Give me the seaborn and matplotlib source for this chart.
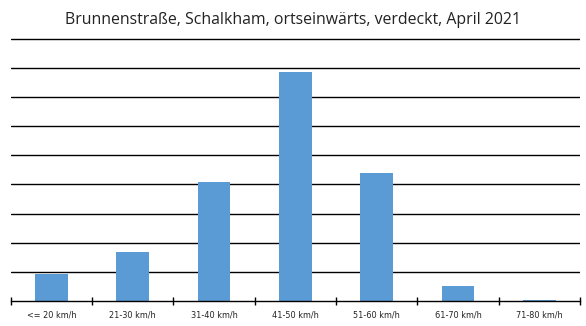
import matplotlib
matplotlib.use("Agg")
import matplotlib.pyplot as plt
import seaborn as sns
import pandas as pd
import numpy as np

categories = ["<= 20 km/h", "21-30 km/h", "31-40 km/h", "41-50 km/h",
              "51-60 km/h", "61-70 km/h", "71-80 km/h"]
values = [0.93, 1.68, 4.09, 7.85, 4.40, 0.52, 0.04]
title = "Brunnenstraße, Schalkham, ortseinwärts, verdeckt, April 2021"

df = pd.DataFrame({"cat": categories, "val": values})

sns.set_theme(style="white")
plt.rcParams["font.family"] = ["DejaVu Sans"]

unit = (301 - 38.5) / 9.0
top_px = 38.5 - 0.1 * unit
fig = plt.figure(figsize=(5.86, 3.26), dpi=100)
ax = fig.add_axes([10.7 / 586, 25 / 326, (580 - 10.7) / 586, (301 - top_px) / 326])

sns.barplot(data=df, x="cat", y="val", color="#5B9BD5", width=0.4,
            saturation=1, ax=ax, zorder=3, linewidth=0, edgecolor="none")

ax.set_xlim(-0.5, len(categories) - 0.5)
ax.set_ylim(0, 9.1)
ax.set_yticks(np.arange(1, 10))
ax.set_yticklabels([])
ax.tick_params(axis="y", length=0)
ax.grid(axis="y", color="black", linewidth=1.0, zorder=0)
ax.grid(axis="x", visible=False)

for s in ["top", "right", "left"]:
    ax.spines[s].set_visible(False)
ax.spines["bottom"].set_color("black")
ax.spines["bottom"].set_linewidth(1.0)
ax.spines["bottom"].set_zorder(4)

# category boundary ticks (major), labels at centers (minor)
ax.set_xticks(np.arange(-0.5, len(categories)), minor=False)
ax.set_xticklabels([])
ax.set_xticks(np.arange(len(categories)), minor=True)
ax.set_xticklabels(categories, minor=True, fontsize=5.9, color="#222222")
ax.tick_params(axis="x", which="major", direction="inout", length=6,
               width=1, color="black", bottom=True)
ax.tick_params(axis="x", which="minor", length=0, pad=6.5, bottom=True)
ax.set_xlabel("")
ax.set_ylabel("")

fig.text(0.5, 1 - 20 / 326, title, ha="center", va="center",
         fontsize=11.4, family=["Open Sans", "DejaVu Sans"], color="#222222")

fig.savefig("out.png", dpi=100)
